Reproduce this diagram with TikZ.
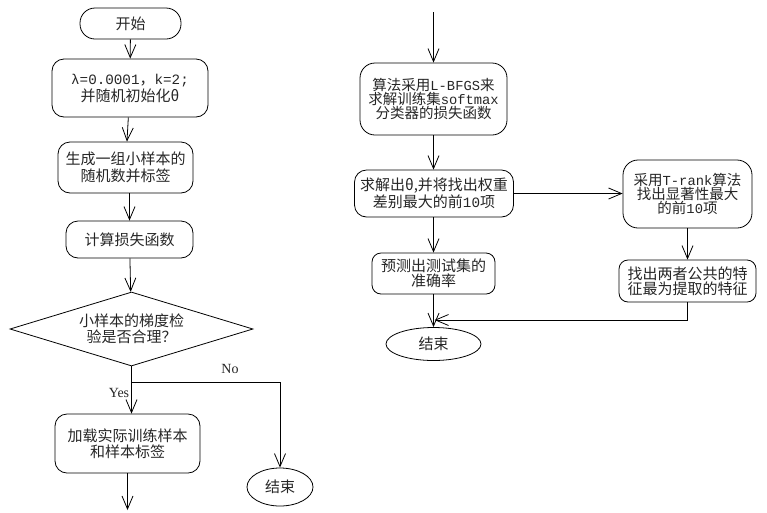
\documentclass[tikz,border=0pt]{standalone}
\usepackage{fontspec}
\setmainfont{Noto Sans CJK SC}
\newfontfamily\monof[Scale=0.95]{Liberation Mono}
\newfontfamily\serf{Liberation Serif}
\usetikzlibrary{arrows.meta,shapes.geometric}
\begin{document}
\begin{tikzpicture}[x=1pt,y=-1pt,
  every node/.style={text=black!85},
  rbox/.style={draw=black, line width=0.8pt, rounded corners=12pt, align=center, inner sep=0pt},
  stad/.style={draw=black, line width=0.8pt, rounded corners=15pt, inner sep=0pt},
  oval/.style={draw=black, line width=0.8pt, ellipse, inner sep=0pt},
  dia/.style={draw=black, line width=0.8pt, diamond, aspect=3.3, inner sep=0pt, align=center},
  arr/.style={draw=black, line width=0.8pt, -{Straight Barb[length=13pt,width=11pt,line width=0.8pt]}},
  ln/.style={draw=black, line width=0.8pt},
  lab/.style={font=\serf\fontsize{14}{16}\selectfont}
]
\useasboundingbox (0,0) rectangle (767,512);
% left column
\node[stad, minimum width=101pt, minimum height=31pt, font=\fontsize{15}{17}\selectfont] (start) at (130.5,23.5) {开始};
\node[rbox, minimum width=156pt, minimum height=58pt, font=\fontsize{15}{17}\selectfont] (b1) at (130,88) {{\monof λ=0.0001}，{\monof k=2;}\\并随机初始化θ};
\node[rbox, minimum width=135pt, minimum height=51pt, font=\fontsize{15}{17}\selectfont] (b2) at (125.5,167.5) {生成一组小样本的\\随机数并标签};
\node[rbox, minimum width=127pt, minimum height=37pt, font=\fontsize{15}{17}\selectfont] (b3) at (129.5,239.5) {计算损失函数};
\node[dia, minimum width=243pt, minimum height=74pt, font=\fontsize{15}{16}\selectfont] (d) at (131.5,329) {小样本的梯度检\\验是否合理？};
\coordinate (j) at (131.5,382);
\coordinate (jr) at (280,382);
\node[rbox, minimum width=145pt, minimum height=59pt, font=\fontsize{15}{15.5}\selectfont] (b4) at (127.5,443.5) {加载实际训练样本\\和样本标签};
\coordinate (bot) at (127.5,510);
\node[oval, minimum width=66pt, minimum height=38pt, font=\fontsize{15}{17}\selectfont] (e1) at (280,487) {结束};
\node[lab] (yes) at (119,393) {Yes};
\node[lab] (no) at (230,369) {No};
\draw[arr] (start) -- (b1);
\draw[arr] (b1) -- (b2);
\draw[arr] (b2.south -| b3) -- (b3);
\draw[arr] (b3) -- (d);
\draw[ln] (d.south) -- (j);
\draw[arr] (j) -- (j |- b4.north);
\draw[arr] (j) -- (jr) -- (e1.north);
\draw[arr] (b4) -- (bot);
% right column
\coordinate (top) at (433.5,12);
\node[rbox, rounded corners=15pt, minimum width=147pt, minimum height=72pt, font=\fontsize{14.5}{14}\selectfont] (bA) at (433.5,99) {算法采用{\monof L-BFGS}来\\求解训练集{\monof softmax}\\分类器的损失函数};
\node[rbox, minimum width=159pt, minimum height=47pt, font=\fontsize{15}{15}\selectfont] (bB) at (434,193.5) {求解出θ,并将找出权重\\差别最大的前{\monof 10}项};
\node[rbox, rounded corners=15pt, minimum width=129pt, minimum height=68pt, font=\fontsize{14.5}{14}\selectfont] (bC) at (687.5,194) {采用{\monof T-rank}算法\\找出显著性最大\\的前{\monof 10}项};
\node[rbox, rounded corners=9pt, minimum width=137pt, minimum height=42pt, font=\fontsize{15}{15}\selectfont] (bD) at (687.5,281) {找出两者公共的特\\征最为提取的特征};
\node[rbox, rounded corners=9pt, minimum width=123pt, minimum height=41pt, font=\fontsize{15}{14.5}\selectfont] (bE) at (433.5,273.5) {预测出测试集的\\准确率};
\node[oval, minimum width=95pt, minimum height=33pt, font=\fontsize{15}{17}\selectfont] (e2) at (433.5,344) {结束};
\coordinate (m) at (687.5,320);
\coordinate (mt) at (434.5,320);
\draw[arr] (top) -- (bA);
\draw[arr] (bA) -- (bA.south |- bB.north);
\draw[arr] (bB.east) -- (bC.west |- bB.east);
\draw[arr] (bC) -- (bD);
\draw[arr] (bB.south -| bE) -- (bE);
\draw[arr] (bE) -- (e2);
\draw[arr] (bD.south) -- (m) -- (mt);
\end{tikzpicture}
\end{document}
